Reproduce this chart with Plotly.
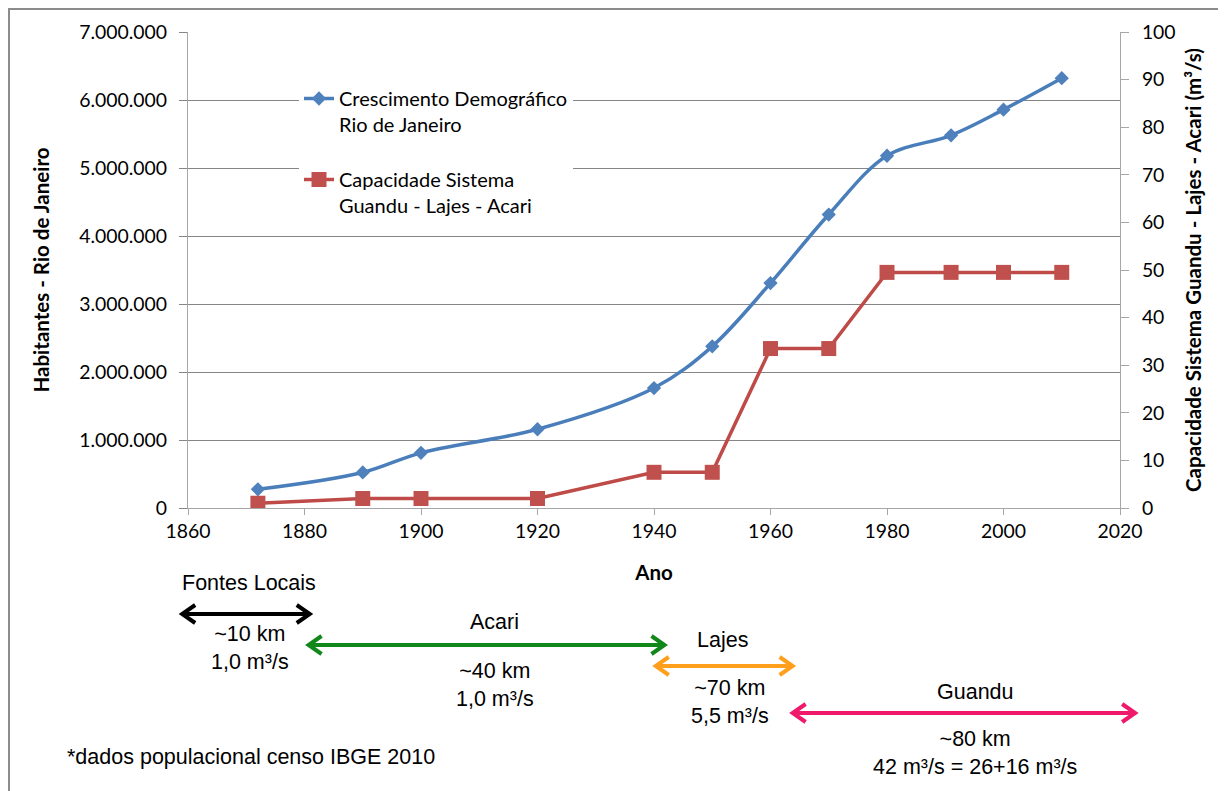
import plotly.graph_objects as go

# dados
YEARS = [1872, 1890, 1900, 1920, 1940, 1950, 1960, 1970, 1980, 1991, 2000, 2010]
POPULATION = [274972, 522651, 811443, 1157873, 1764141, 2377451,
              3307163, 4315746, 5180000, 5480768, 5857904, 6320446]
CAPACITY = [1.0, 2.0, 2.0, 2.0, 7.5, 7.5, 33.5, 33.5, 49.5, 49.5, 49.5, 49.5]

# sistemas de abastecimento (periodo em anos no eixo x)
SOURCES = ["Fontes Locais", "Acari", "Lajes", "Guandu"]
SOURCE_START = [1859.0, 1880.7, 1940.3, 1963.8]
SOURCE_END = [1880.9, 1941.8, 1963.8, 2022.6]
DISTANCES = ["~10 km", "~40 km", "~70 km", "~80 km"]
FLOWS = ["1,0 m³/s", "1,0 m³/s", "5,5 m³/s", "42 m³/s = 26+16 m³/s"]
NOTE = "*dados populacional censo IBGE 2010"

X_RANGE = [1860, 2020]

# estilo -- coordenadas em px da tela (a pagina tem margem de 8px no body)
SW, SH, OFF = 1226, 791, 8
PL, PR, PT, PB = 188, 1120, 32, 508     # area do grafico na tela
ARROW_COLORS = ["#000000", "#12871a", "#ff9f1c", "#ef1a6c"]
ARROW_Y = [614, 645, 666, 713]
NAME_POS = [(249, 583), (494, 622), (722, 640), (975, 692)]
INFO_POS = [(250, 648), (495, 685), (730, 702), (975, 753)]
GRID = "#868686"
AXIS = "#a6a6a6"
TICK_FONT = dict(family="Lato", size=19.4, color="#000")
TITLE_FONT = dict(family="Lato", size=20.5, color="#000", weight="bold")
TEXT_FONT = dict(family="Liberation Sans", size=21.5, color="#000")


def px_x(p):
    return (p - PL) / (PR - PL)


def px_y(p):
    return (PB - p) / (PB - PT)


def year_x(y):
    return (y - X_RANGE[0]) / (X_RANGE[1] - X_RANGE[0])


fig = go.Figure()
fig.add_trace(go.Scatter(
    x=YEARS, y=POPULATION, name="Crescimento Demográfico<br>Rio de Janeiro",
    mode="lines+markers", line=dict(color="#4a7ebb", width=3.5, shape="spline"),
    marker=dict(symbol="diamond", size=11, color="#4f81bd"),
    legendgroup="a",
))
fig.add_trace(go.Scatter(
    x=YEARS, y=CAPACITY, name="Capacidade Sistema<br>Guandu - Lajes - Acari",
    mode="lines+markers", line=dict(color="#be4b48", width=3.5),
    marker=dict(symbol="square", size=15, color="#c0504d"),
    yaxis="y2", legendgroup="b",
))

shapes = []
annotations = []
hx, hy = 13 / (PR - PL), 9 / (PB - PT)   # ponta da seta
for name, x0, x1, dist, flow, col, ay, npos, ipos in zip(
        SOURCES, SOURCE_START, SOURCE_END, DISTANCES, FLOWS,
        ARROW_COLORS, ARROW_Y, NAME_POS, INFO_POS):
    a, b, y = year_x(x0), year_x(x1), px_y(ay)
    path = (f"M{a},{y} L{b},{y} "
            f"M{a + hx},{y + hy} L{a},{y} L{a + hx},{y - hy} "
            f"M{b - hx},{y + hy} L{b},{y} L{b - hx},{y - hy}")
    shapes.append(dict(type="path", path=path, xref="paper", yref="paper",
                       line=dict(color=col, width=4)))
    annotations.append(dict(text=name, x=px_x(npos[0]), y=px_y(npos[1]),
                            xref="paper", yref="paper", xanchor="center",
                            yanchor="middle", showarrow=False, font=TEXT_FONT))
    annotations.append(dict(text=f"{dist}<br>{flow}", x=px_x(ipos[0]),
                            y=px_y(ipos[1]), xref="paper", yref="paper",
                            xanchor="center", yanchor="middle",
                            showarrow=False, font=TEXT_FONT))

annotations.append(dict(text=NOTE, x=px_x(65), y=px_y(757), xref="paper",
                        yref="paper", xanchor="left", yanchor="middle",
                        showarrow=False, font=TEXT_FONT))

# moldura
shapes.append(dict(type="rect", xref="paper", yref="paper",
                   x0=px_x(9), x1=px_x(1221), y0=px_y(9), y1=px_y(830),
                   line=dict(color="#8c8c8c", width=2), layer="below"))

fig.update_layout(
    width=SW - OFF, height=SH - OFF,
    margin=dict(l=PL - OFF, r=SW - PR, t=PT - OFF, b=SH - PB, autoexpand=False),
    paper_bgcolor="white", plot_bgcolor="white",
    separators=",.",
    showlegend=True,
    legend=dict(x=px_x(299), y=px_y(79), xanchor="left", yanchor="top",
                bgcolor="white", font=dict(family="Lato", size=20, color="#000"),
                valign="top", tracegroupgap=26, traceorder="grouped"),
    xaxis=dict(range=X_RANGE, dtick=20, tick0=1860, showgrid=False,
               showline=True, linecolor=AXIS, ticks="outside", ticklen=6,
               tickcolor=AXIS, tickfont=TICK_FONT, zeroline=False,
               title=dict(text="Ano", font=TITLE_FONT, standoff=24)),
    yaxis=dict(range=[0, 7000000], dtick=1000000, tickformat=",.0f",
               showgrid=True, gridcolor=GRID, showline=True, linecolor=AXIS,
               ticks="outside", ticklen=8, tickcolor=GRID, tickfont=TICK_FONT,
               ticklabelstandoff=8, zeroline=False,
               title=dict(text="Habitantes - Rio de Janeiro", font=TITLE_FONT,
                          standoff=24)),
    yaxis2=dict(range=[0, 100], dtick=10, overlaying="y", side="right",
                showgrid=False, showline=True, linecolor=AXIS, ticks="outside",
                ticklen=8, tickcolor=AXIS, tickfont=TICK_FONT,
                ticklabelstandoff=9, zeroline=False,
                title=dict(text="Capacidade Sistema Guandu - Lajes - Acari (m³/s)",
                           font=TITLE_FONT, standoff=12)),
    shapes=shapes,
    annotations=annotations,
)

fig.write_html("out.html")
